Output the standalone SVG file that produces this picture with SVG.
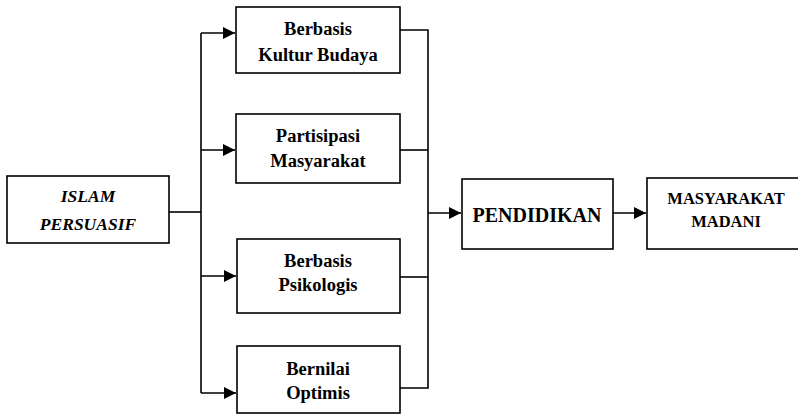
<svg xmlns="http://www.w3.org/2000/svg" width="798" height="415" viewBox="0 0 798 415">
<style>
.box{fill:#fff;stroke:#000;stroke-width:1.6}
.t{font-family:"Liberation Serif","Times New Roman",serif;font-weight:bold;font-size:18.5px;fill:#000;text-anchor:middle}
.i{font-style:italic;font-size:17.5px}
.c{fill:none;stroke:#000;stroke-width:1.6}
</style>
<defs>
<marker id="ah" viewBox="0 0 10 10" refX="10" refY="5" markerWidth="12" markerHeight="12" markerUnits="userSpaceOnUse" orient="auto">
<path d="M0,0 L10,5 L0,10 Z" fill="#000"/>
</marker>
</defs>
<g id="connectors">
<path class="c" d="M169,212 H201"/>
<path class="c" d="M201,33 V393"/>
<path class="c" d="M201,33 H235" marker-end="url(#ah)"/>
<path class="c" d="M201,150 H235" marker-end="url(#ah)"/>
<path class="c" d="M201,276 H236" marker-end="url(#ah)"/>
<path class="c" d="M201,393 H236" marker-end="url(#ah)"/>
<path class="c" d="M400,30 H428 V388 H400"/>
<path class="c" d="M400,150 H428"/>
<path class="c" d="M400,277 H428"/>
<path class="c" d="M428,213 H461" marker-end="url(#ah)"/>
<path class="c" d="M613,213 H646" marker-end="url(#ah)"/>
</g>
<g id="islam">
<rect class="box" x="7" y="176" width="162" height="67"/>
<text class="t i" x="88" y="202">ISLAM</text>
<text class="t i" x="88" y="230">PERSUASIF</text>
</g>
<g id="kultur">
<rect class="box" x="236" y="7" width="164" height="66"/>
<text class="t" x="318" y="35">Berbasis</text>
<text class="t" x="318" y="61">Kultur Budaya</text>
</g>
<g id="partisipasi">
<rect class="box" x="236" y="114" width="164" height="69"/>
<text class="t" x="318" y="142">Partisipasi</text>
<text class="t" x="318" y="167">Masyarakat</text>
</g>
<g id="psikologis">
<rect class="box" x="237" y="239" width="163" height="74"/>
<text class="t" x="318" y="267">Berbasis</text>
<text class="t" x="318" y="291">Psikologis</text>
</g>
<g id="optimis">
<rect class="box" x="237" y="346" width="163" height="67"/>
<text class="t" x="318" y="375">Bernilai</text>
<text class="t" x="318" y="399">Optimis</text>
</g>
<g id="pendidikan">
<rect class="box" x="462" y="179" width="151" height="70"/>
<text class="t" x="537" y="222" style="font-size:20px">PENDIDIKAN</text>
</g>
<g id="madani">
<rect class="box" x="647" y="178" width="160" height="71"/>
<text class="t" x="726" y="204" style="font-size:16.5px">MASYARAKAT</text>
<text class="t" x="726" y="227" style="font-size:16.5px">MADANI</text>
</g>
</svg>
